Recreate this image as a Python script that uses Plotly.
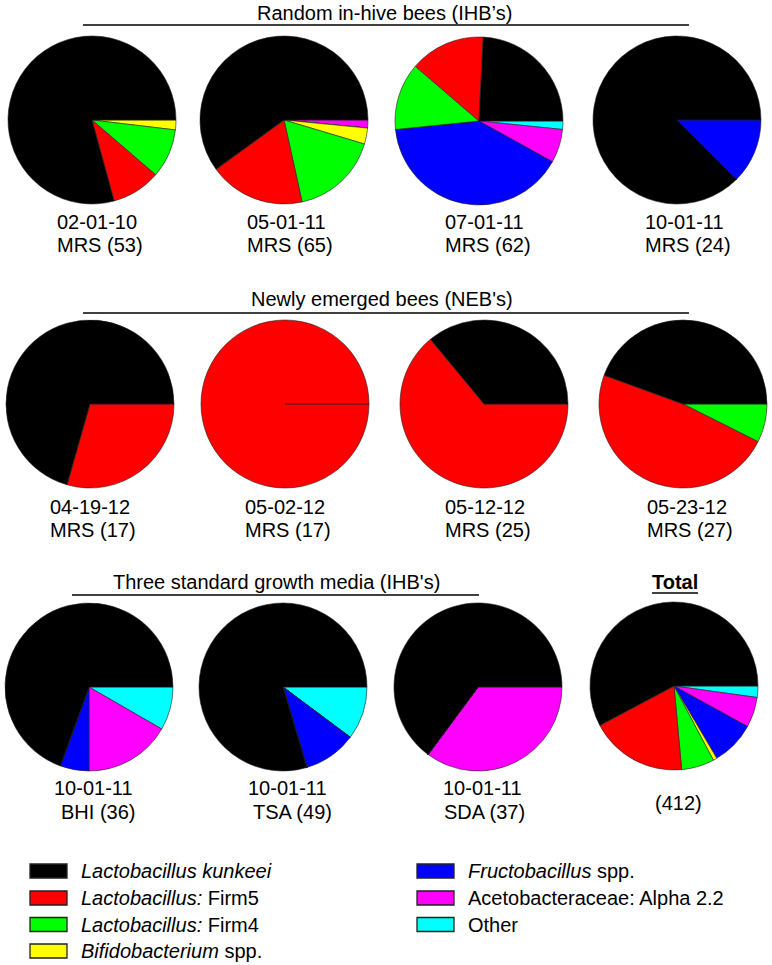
import plotly.graph_objects as go

# ---------------- data ----------------
categories = ["Lactobacillus kunkeei", "Lactobacillus: Firm5", "Lactobacillus: Firm4",
              "Bifidobacterium spp.", "Fructobacillus spp.", "Acetobacteraceae: Alpha 2.2", "Other"]
legend_labels = ["<i>Lactobacillus kunkeei</i>", "<i>Lactobacillus:</i> Firm5", "<i>Lactobacillus:</i> Firm4",
                 "<i>Bifidobacterium</i> spp.", "<i>Fructobacillus</i> spp.", "Acetobacteraceae: Alpha 2.2", "Other"]
colors = ["#000000", "#FF0000", "#00FF00", "#FFFF00", "#0000FF", "#FF00FF", "#00FFFF"]

sample_dates = ["02-01-10", "05-01-11", "07-01-11", "10-01-11",
                "04-19-12", "05-02-12", "05-12-12", "05-23-12",
                "10-01-11", "10-01-11", "10-01-11", ""]
sample_media = ["MRS (53)", "MRS (65)", "MRS (62)", "MRS (24)",
                "MRS (17)", "MRS (17)", "MRS (25)", "MRS (27)",
                "BHI (36)", "TSA (49)", "SDA (37)", "(412)"]

kunkeei = [42, 39, 15, 21, 12, 0, 9, 12, 25, 39, 24, 238]
firm5   = [5, 12, 9, 0, 5, 17, 16, 13, 0, 0, 0, 77]
firm4   = [5, 11, 8, 0, 0, 0, 0, 2, 0, 0, 0, 26]
bifido  = [1, 2, 0, 0, 0, 0, 0, 0, 0, 0, 0, 3]
fructo  = [0, 0, 25, 3, 0, 0, 0, 0, 2, 5, 0, 35]
alpha22 = [0, 1, 4, 0, 0, 0, 0, 0, 6, 0, 13, 24]
other   = [0, 0, 1, 0, 0, 0, 0, 0, 3, 5, 0, 9]

group_titles = ["Random in-hive bees (IHB\u2019s)", "Newly emerged bees (NEB's)",
                "Three standard growth media (IHB's)"]

# ---------------- layout geometry (page pixels) ----------------
W, H = 772, 965
FONT = "Liberation Sans, Arial, Helvetica, sans-serif"
pie_cx = [92, 284, 479, 677, 90, 285, 484, 683, 89, 283, 478, 674]
pie_cy = [120, 120, 121, 120, 404, 404, 404, 404, 687, 687, 687, 686]
R = 84
label_x = [55, 245, 443, 643, 48, 243, 443, 645, 52, 246, 441, 0]
media_dx = [0, 0, 0, 0, 0, 0, 0, 0, 7, 5, 1, 0]
label_y1 = [222, 222, 222, 222, 507, 507, 507, 507, 788, 788, 788, 0]
label_y2 = [245, 245, 245, 245, 530, 530, 530, 530, 812, 812, 812, 803]
title_pos = [(384, 13), (382, 299), (276, 582)]
line_pos = [(83, 689, 25), (83, 689, 313), (72, 479, 595)]


def X(px):
    return px / W


def Y(py):
    return 1 - py / H


series = [kunkeei, firm5, firm4, bifido, fructo, alpha22, other]

fig = go.Figure()
for i in range(12):
    vals = [s[i] for s in series]
    # slices run counterclockwise from 3 o'clock in category order;
    # drawn clockwise from 3 o'clock in reversed order
    fig.add_trace(go.Pie(
        labels=categories[::-1], values=vals[::-1], sort=False,
        direction="clockwise", rotation=90,
        marker=dict(colors=colors[::-1], line=dict(color="#222222", width=0.6)),
        textinfo="none", hoverinfo="label+value", showlegend=False,
        domain=dict(x=[X(pie_cx[i] - R), X(pie_cx[i] + R)],
                    y=[Y(pie_cy[i] + R), Y(pie_cy[i] - R)]),
    ))

annotations = []
shapes = []
for i in range(12):
    if sample_dates[i]:
        annotations.append(dict(x=X(label_x[i]), y=Y(label_y1[i]), xref="paper", yref="paper",
                                text=sample_dates[i], showarrow=False, xanchor="left", yanchor="middle",
                                font=dict(size=20, color="black", family=FONT)))
        annotations.append(dict(x=X(label_x[i] + media_dx[i]), y=Y(label_y2[i]), xref="paper", yref="paper",
                                text=sample_media[i], showarrow=False, xanchor="left", yanchor="middle",
                                font=dict(size=20, color="black", family=FONT)))
    else:
        annotations.append(dict(x=X(pie_cx[i] + 4), y=Y(label_y2[i]), xref="paper", yref="paper",
                                text=sample_media[i], showarrow=False, xanchor="center", yanchor="middle",
                                font=dict(size=20, color="black", family=FONT)))

for (tx, ty), title, (x0, x1, ly) in zip(title_pos, group_titles, line_pos):
    annotations.append(dict(x=X(tx), y=Y(ty), xref="paper", yref="paper", text=title,
                            showarrow=False, xanchor="center", yanchor="middle",
                            font=dict(size=20, color="black", family=FONT)))
    shapes.append(dict(type="line", xref="paper", yref="paper", x0=X(x0), x1=X(x1), y0=Y(ly), y1=Y(ly),
                       line=dict(color="black", width=1.5)))

# "Total" header
annotations.append(dict(x=X(675), y=Y(582), xref="paper", yref="paper", text="<b>Total</b>",
                        showarrow=False, xanchor="center", yanchor="middle",
                        font=dict(size=20, color="black", family=FONT)))
shapes.append(dict(type="line", xref="paper", yref="paper", x0=X(652), x1=X(698), y0=Y(593), y1=Y(593),
                   line=dict(color="black", width=1.5)))

# legend (two columns)
leg_box_x = [30, 30, 30, 30, 417, 417, 417]
leg_y = [871, 898, 924.5, 951, 871, 898, 924.5]
for k in range(7):
    bx = leg_box_x[k]
    by = leg_y[k]
    shapes.append(dict(type="rect", xref="paper", yref="paper",
                       x0=X(bx), x1=X(bx + 37), y0=Y(by + 7), y1=Y(by - 7),
                       fillcolor=colors[k], line=dict(color="#222222", width=1.3)))
    annotations.append(dict(x=X(bx + 49), y=Y(by), xref="paper", yref="paper", text=legend_labels[k],
                            showarrow=False, xanchor="left", yanchor="middle",
                            font=dict(size=20, color="black", family=FONT)))

fig.update_layout(width=W, height=H, margin=dict(l=0, r=0, t=0, b=0),
                  paper_bgcolor="white", plot_bgcolor="white",
                  annotations=annotations, shapes=shapes)

# remove the page's default 8px body margin so the figure sits at the window origin
fig.write_html("out.html", config={"displayModeBar": False},
               post_script="document.body.style.margin='0';document.body.style.overflow='hidden';")
